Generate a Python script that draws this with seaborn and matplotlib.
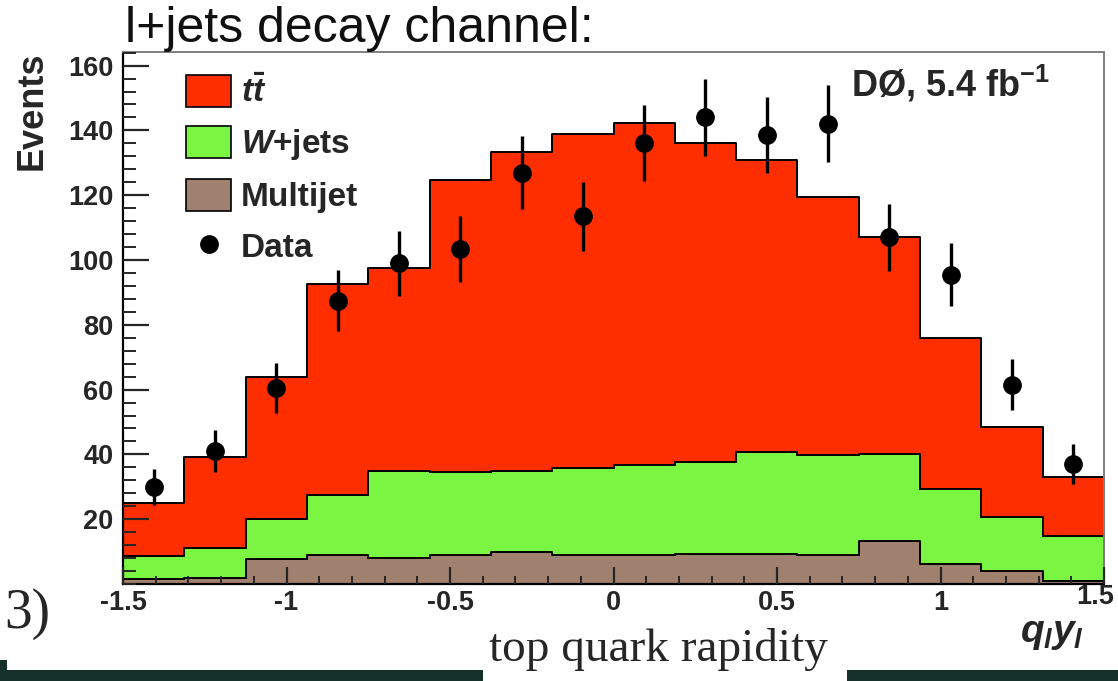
import numpy as np
import pandas as pd
import matplotlib
matplotlib.use("Agg")
import matplotlib.pyplot as plt
import matplotlib.transforms as mtransforms
from matplotlib.patches import Patch, Rectangle
from matplotlib.lines import Line2D
from matplotlib.ticker import FixedLocator, MultipleLocator
import seaborn as sns

# ---- histogram contents (16 bins in q_l * y_l) ----
bin_edges = [-1.5, -1.3125, -1.125, -0.9375, -0.75, -0.5625, -0.375, -0.1875, 0.0,
             0.1875, 0.375, 0.5625, 0.75, 0.9375, 1.125, 1.3125, 1.5]
ttbar = [16.3, 28.1, 44.0, 65.1, 62.7, 90.2, 98.3, 102.9, 105.7, 98.4, 90.4, 79.9,
         66.8, 46.5, 28.0, 18.2]
wjets = [7.2, 9.4, 12.3, 18.6, 27.0, 25.6, 25.1, 27.0, 27.8, 28.4, 31.2, 30.8,
         26.8, 23.0, 16.6, 14.0]
multijet = [1.4, 1.8, 7.7, 8.9, 7.9, 8.9, 9.8, 8.9, 8.9, 9.2, 9.4, 8.9,
            13.4, 6.3, 4.0, 0.9]
data = [30, 41, 60.5, 87.5, 99, 103.5, 127, 113.5, 136, 144, 138.5, 142,
        107, 95.5, 61.5, 37]
data_err = [5.5, 6.4, 7.8, 9.4, 10.0, 10.2, 11.3, 10.7, 11.7, 12.0, 11.8, 11.9,
            10.3, 9.8, 7.8, 6.1]

process_names = ["ttbar", "wjets", "multijet"]
legend_labels = [r"$t\bar{t}$", r"$W$+jets", "Multijet", "Data"]
x_ticks = [-1.5, -1, -0.5, 0, 0.5, 1, 1.5]
x_tick_labels = ["-1.5", "-1", "-0.5", "0", "0.5", "1", "1.5"]
y_ticks = [20, 40, 60, 80, 100, 120, 140, 160]
y_tick_labels = ["20", "40", "60", "80", "100", "120", "140", "160"]

colors = {"ttbar": "#ff2e00", "wjets": "#7af542", "multijet": "#a0806e"}

# ---- style ----
sns.set_style("white")
plt.rcParams.update({
    "font.family": ["Liberation Sans", "DejaVu Sans"],
    "mathtext.fontset": "custom",
    "mathtext.rm": "Liberation Sans:bold",
    "mathtext.it": "Liberation Sans:italic:bold",
    "mathtext.bf": "Liberation Sans:bold",
})

W, H = 1118, 681
fig = plt.figure(figsize=(W / 100, H / 100), dpi=100)
fig.patch.set_facecolor("white")
ax_left, ax_right, ax_top, ax_bottom = 123, 1104, 52, 584
ax = fig.add_axes([ax_left / W, 1 - ax_bottom / H,
                   (ax_right - ax_left) / W, (ax_bottom - ax_top) / H])

centers = [(a + b) / 2 for a, b in zip(bin_edges[:-1], bin_edges[1:])]
df = pd.DataFrame({
    "qy": centers * 3,
    "events": ttbar + wjets + multijet,
    "process": ["ttbar"] * len(ttbar) + ["wjets"] * len(wjets) + ["multijet"] * len(multijet),
})

# stacked MC prediction (first hue level ends up on top of the stack)
sns.histplot(data=df, x="qy", weights="events", hue="process",
             hue_order=process_names, bins=bin_edges, multiple="stack",
             element="step", palette=colors, alpha=1, edgecolor="black",
             linewidth=1.4, legend=False, ax=ax)

# data points with statistical error bars
ax.errorbar(centers, data, yerr=data_err, fmt="o", color="black",
            markersize=12.5, elinewidth=2.4, capsize=0, zorder=6)

ax.set_xlim(-1.5, 1.5)
ax.set_ylim(0, 164.2)

# ticks: ROOT style, pointing inwards
ax.xaxis.set_major_locator(FixedLocator(x_ticks))
ax.set_xticklabels(x_tick_labels)
ax.xaxis.set_minor_locator(MultipleLocator(0.1))
ax.yaxis.set_major_locator(FixedLocator(y_ticks))
ax.set_yticklabels(y_tick_labels)
ax.yaxis.set_minor_locator(MultipleLocator(4))
ax.tick_params(axis="x", which="major", direction="in", length=12, width=1.6,
               labelsize=19.5, pad=4, bottom=True, top=False)
ax.tick_params(axis="x", which="minor", direction="in", length=6, width=1.4,
               bottom=True, top=False)
ax.tick_params(axis="y", which="major", direction="in", length=19, width=1.6,
               labelsize=19.5, pad=7, left=True, right=False)
ax.tick_params(axis="y", which="minor", direction="in", length=9.5, width=1.4,
               left=True, right=False)
for lab in ax.get_xticklabels() + ax.get_yticklabels():
    lab.set_fontweight("bold")
# the last x label sits a little higher and is pulled inside the figure edge
last = ax.get_xticklabels()[-1]
last.set_transform(last.get_transform() +
                   mtransforms.ScaledTranslation(-9 / 100, 6 / 100, fig.dpi_scale_trans))

for side in ("left", "bottom"):
    ax.spines[side].set_color("black")
    ax.spines[side].set_linewidth(1.6)
for side in ("top", "right"):
    ax.spines[side].set_color("#808080")
    ax.spines[side].set_linewidth(1.4)
ax.set_axisbelow(False)

# axis titles
ax.set_ylabel("Events", fontsize=26, fontweight="bold", loc="top")
ax.yaxis.set_label_coords(-0.075, 1.0)
ax.set_xlabel(r"$q_l y_l$", fontsize=28, loc="right")
ax.xaxis.set_label_coords(0.98, -0.06)

# legend
handles = [Patch(facecolor=colors[p], edgecolor="black", linewidth=1.2)
           for p in process_names]
handles.append(Line2D([], [], marker="o", linestyle="none", color="black",
                      markersize=12.5))
ax.legend(handles, legend_labels, loc="upper left",
          bbox_to_anchor=((186 - ax_left) / (ax_right - ax_left),
                          (ax_bottom - 75) / (ax_bottom - ax_top)),
          frameon=False, borderpad=0, borderaxespad=0,
          prop={"weight": "bold", "size": 24},
          handlelength=1.35, handleheight=1.1, handletextpad=0.3,
          labelspacing=0.5)

ax.text(0.945, 0.94, r"DØ, 5.4 fb$^{\mathregular{-1}}$", transform=ax.transAxes,
        ha="right", va="center", fontsize=26, fontweight="bold")

# heading above the frame
fig.text(125 / W, 1 - 42 / H, "l+jets decay channel:", fontsize=36,
         ha="left", va="baseline", color="#101010")

# slide decorations below the plot
fig.text(4 / W, 1 - 614 / H, "3)", family="Liberation Serif", fontsize=40,
         ha="left", va="center")
fig.text(658 / W, 1 - 661 / H, "top quark rapidity", family="Liberation Serif",
         fontsize=34, ha="center", va="baseline")
bar_color = "#16302a"
fig.patches.extend([
    Rectangle((0, 0), 483 / W, 11 / H, transform=fig.transFigure,
              facecolor=bar_color, edgecolor="none"),
    Rectangle((0, 0), 7 / W, 21 / H, transform=fig.transFigure,
              facecolor=bar_color, edgecolor="none"),
    Rectangle((847 / W, 0), 1 - 847 / W, 11 / H, transform=fig.transFigure,
              facecolor=bar_color, edgecolor="none"),
])

fig.savefig("out.png", dpi=100)
